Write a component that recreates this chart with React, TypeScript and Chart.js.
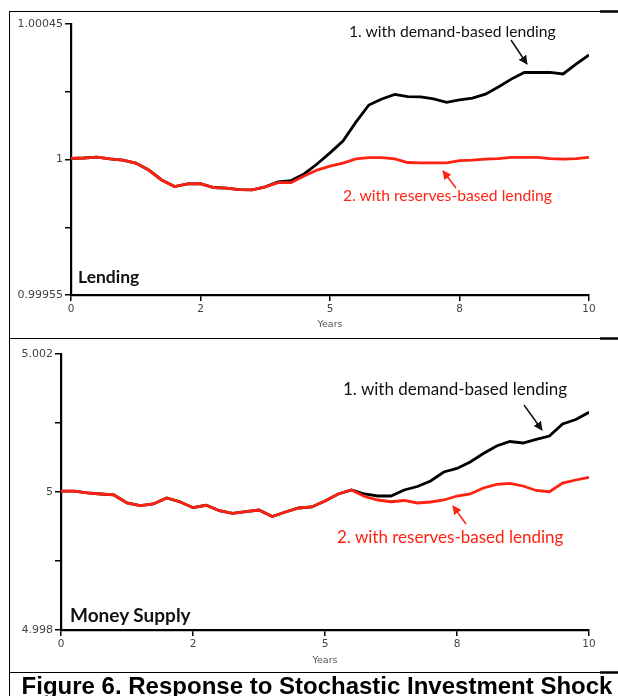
import React, { useEffect, useRef } from "react";
import { Chart, registerables } from "chart.js";

Chart.register(...registerables);

// ---------------- data ----------------
const years = [
  0, 0.25, 0.5, 0.75, 1, 1.25, 1.5, 1.75, 2, 2.25, 2.5, 2.75, 3, 3.25, 3.5, 3.75,
  4, 4.25, 4.5, 4.75, 5, 5.25, 5.5, 5.75, 6, 6.25, 6.5, 6.75, 7, 7.25, 7.5, 7.75,
  8, 8.25, 8.5, 8.75, 9, 9.25, 9.5, 9.75, 10,
];

const lendingDemand = [
  1.000004, 1.000005, 1.000008, 1.000002, 0.999998, 0.999988, 0.999965, 0.999932,
  0.99991, 0.999919, 0.99992, 0.999907, 0.999905, 0.9999, 0.999899, 0.999909,
  0.999926, 0.99993, 0.999952, 0.999985, 1.000022, 1.000061, 1.000124, 1.000181,
  1.000201, 1.000216, 1.000209, 1.000208, 1.000201, 1.00019, 1.000198, 1.000204,
  1.000217, 1.000241, 1.000267, 1.000289, 1.000289, 1.000289, 1.000284, 1.000317,
  1.000347,
];

const lendingReserves = [
  1.000004, 1.000005, 1.000008, 1.000002, 0.999998, 0.999988, 0.999965, 0.999932,
  0.99991, 0.999919, 0.99992, 0.999907, 0.999905, 0.9999, 0.999899, 0.999909,
  0.999923, 0.999923, 0.999945, 0.999965, 0.999978, 0.999988, 1.000002, 1.000006,
  1.000006, 1.000002, 0.99999, 0.999989, 0.999989, 0.999989, 0.999996, 0.999998,
  1.000001, 1.000003, 1.000007, 1.000007, 1.000007, 1.000003, 1.000001, 1.000003,
  1.000007,
];

const moneyDemand = [
  5.000014, 5.000014, 4.999986, 4.999971, 4.999957, 4.999841, 4.999804, 4.999826,
  4.999913, 4.999859, 4.999773, 4.999807, 4.999729, 4.999691, 4.999715, 4.999739,
  4.999645, 4.99971, 4.999768, 4.999783, 4.99987, 4.999971, 5.000029, 4.999971,
  4.999942, 4.999942, 5.000029, 5.00008, 5.000159, 5.00029, 5.000341, 5.000435,
  5.000558, 5.000667, 5.000732, 5.00071, 5.000764, 5.000811, 5.000985, 5.001051,
  5.001155,
];

const moneyReserves = [
  5.000014, 5.000014, 4.999986, 4.999971, 4.999957, 4.999841, 4.999804, 4.999826,
  4.999913, 4.999859, 4.999773, 4.999807, 4.999729, 4.999691, 4.999715, 4.999739,
  4.999645, 4.99971, 4.999768, 4.999783, 4.99987, 4.999971, 5.000029, 4.999935,
  4.999884, 4.999859, 4.999877, 4.999841, 4.999855, 4.999884, 4.999942, 4.999971,
  5.000058, 5.000109, 5.000126, 5.000087, 5.000022, 5.000004, 5.00013, 5.000174,
  5.000213,
];

const xTickValues = [0, 2.5, 5, 7.5, 10];
const xTickLabels = ["0", "2", "5", "8", "10"];

const lendingTickValues = [0.99955, 0.999775, 1, 1.000225, 1.00045];
const lendingTickLabels = ["0.99955", "", "1", "", "1.00045"];

const moneyTickValues = [4.998, 4.999, 5, 5.001, 5.002];
const moneyTickLabels = ["4.998", "", "5", "", "5.002"];

const demandLabel = "1. with demand-based lending";
const reservesLabel = "2. with reserves-based lending";

// ---------------- styles ----------------
const RED = "#ff2212";
const TICK_FAMILY = "'DejaVu Sans', Verdana, sans-serif";

type PanelProps = {
  left: number;
  top: number;
  width: number;
  height: number;
  yAxisWidth: number;
  xAxisHeight: number;
  padTop: number;
  padRight: number;
  padBottom: number;
  demand: number[];
  reserves: number[];
  yTicks: number[];
  yTickLabels: string[];
};

function Panel(p: PanelProps) {
  const ref = useRef<HTMLCanvasElement | null>(null);
  useEffect(() => {
    if (!ref.current) return;
    const chart = new Chart(ref.current, {
      type: "line",
      data: {
        datasets: [
          {
            label: reservesLabel,
            data: years.map((x, i) => ({ x, y: p.reserves[i] })),
            borderColor: RED,
            borderWidth: 2.8,
            pointRadius: 0,
            tension: 0,
            order: 0,
          },
          {
            label: demandLabel,
            data: years.map((x, i) => ({ x, y: p.demand[i] })),
            borderColor: "#000",
            borderWidth: 2.8,
            pointRadius: 0,
            tension: 0,
            order: 1,
          },
        ],
      },
      options: {
        animation: false,
        responsive: false,
        devicePixelRatio: 1,
        layout: { padding: { top: p.padTop, right: p.padRight, left: 0, bottom: p.padBottom } },
        plugins: { legend: { display: false }, tooltip: { enabled: false } },
        scales: {
          x: {
            type: "linear",
            min: 0,
            max: 10,
            afterBuildTicks: (s: any) => {
              s.ticks = xTickValues.map((v) => ({ value: v }));
            },
            afterFit: (s: any) => {
              s.height = p.xAxisHeight;
            },
            ticks: {
              callback: (_v: any, i: number) => xTickLabels[i],
              color: "#444",
              font: { family: TICK_FAMILY, size: 10.5 },
              padding: 2,
              maxRotation: 0,
              autoSkip: false,
            },
            grid: {
              drawOnChartArea: false,
              drawTicks: true,
              tickLength: 6,
              color: "#000",
              lineWidth: 1.5,
            },
            border: { display: true, color: "#000", width: 2.2 },
            title: {
              display: true,
              text: "Years",
              color: "#555",
              font: { family: TICK_FAMILY, size: 9.5 },
              padding: { top: 0, bottom: 0 },
            },
          },
          y: {
            type: "linear",
            min: p.yTicks[0],
            max: p.yTicks[p.yTicks.length - 1],
            afterBuildTicks: (s: any) => {
              s.ticks = p.yTicks.map((v) => ({ value: v }));
            },
            afterFit: (s: any) => {
              s.width = p.yAxisWidth;
            },
            ticks: {
              callback: (_v: any, i: number) => p.yTickLabels[i],
              color: "#444",
              font: { family: TICK_FAMILY, size: 11 },
              padding: 2,
              autoSkip: false,
            },
            grid: {
              drawOnChartArea: false,
              drawTicks: true,
              tickLength: 6,
              color: "#000",
              lineWidth: 1.5,
            },
            border: { display: true, color: "#000", width: 2.2 },
          },
        },
      },
    } as any);
    return () => chart.destroy();
  }, []);
  return (
    <canvas
      ref={ref}
      width={p.width}
      height={p.height}
      style={{ position: "absolute", left: p.left, top: p.top, width: p.width, height: p.height }}
    />
  );
}

const annoFont = "Lato, 'Open Sans', sans-serif";

function Text(props: { x: number; y: number; size: number; color: string; bold?: boolean; children: string }) {
  return (
    <div
      style={{
        position: "absolute",
        left: props.x,
        top: props.y,
        fontFamily: annoFont,
        fontSize: props.size,
        lineHeight: "1",
        fontWeight: props.bold ? 700 : 400,
        color: props.color,
        whiteSpace: "nowrap",
      }}
    >
      {props.children}
    </div>
  );
}

export default function App() {
  const arrows = [
    { x1: 511, y1: 40, x2: 527, y2: 64, c: "#111" },
    { x1: 456, y1: 188, x2: 443, y2: 171, c: RED },
    { x1: 524, y1: 405, x2: 542, y2: 430, c: "#111" },
    { x1: 466, y1: 524, x2: 453, y2: 506, c: RED },
  ];
  return (
    <div
      style={{
        position: "absolute",
        left: 0,
        top: 0,
        width: 618,
        height: 696,
        overflow: "hidden",
        background: "#fff",
      }}
    >
      <Panel
        left={10}
        top={12}
        width={606}
        height={325}
        yAxisWidth={61}
        xAxisHeight={35}
        padTop={12}
        padRight={27}
        padBottom={7}
        demand={lendingDemand}
        reserves={lendingReserves}
        yTicks={lendingTickValues}
        yTickLabels={lendingTickLabels}
      />
      <Panel
        left={10}
        top={342}
        width={606}
        height={329}
        yAxisWidth={51}
        xAxisHeight={36}
        padTop={12}
        padRight={27}
        padBottom={5}
        demand={moneyDemand}
        reserves={moneyReserves}
        yTicks={moneyTickValues}
        yTickLabels={moneyTickLabels}
      />

      <Text x={349} y={24} size={15.7} color="#111">{demandLabel}</Text>
      <Text x={343} y={188} size={15.7} color={RED}>{reservesLabel}</Text>
      <Text x={78} y={268} size={17.5} color="#111" bold>Lending</Text>

      <Text x={343} y={380} size={17} color="#111">{demandLabel}</Text>
      <Text x={337} y={528} size={17} color={RED}>{reservesLabel}</Text>
      <Text x={70} y={605} size={19} color="#111" bold>Money Supply</Text>

      <svg
        width={618}
        height={696}
        style={{ position: "absolute", left: 0, top: 0, pointerEvents: "none" }}
      >
        <defs>
          <marker id="ahK" viewBox="0 0 10 10" refX="9" refY="5" markerWidth="6" markerHeight="6" orient="auto">
            <path d="M0,0 L10,5 L0,10 z" fill="#111" />
          </marker>
          <marker id="ahR" viewBox="0 0 10 10" refX="9" refY="5" markerWidth="6" markerHeight="6" orient="auto">
            <path d="M0,0 L10,5 L0,10 z" fill={RED} />
          </marker>
        </defs>
        {arrows.map((a, i) => (
          <line
            key={i}
            x1={a.x1}
            y1={a.y1}
            x2={a.x2}
            y2={a.y2}
            stroke={a.c}
            strokeWidth={1.5}
            markerEnd={a.c === RED ? "url(#ahR)" : "url(#ahK)"}
          />
        ))}
        {/* frame lines */}
        <line x1={9.5} y1={11.5} x2={618} y2={11.5} stroke="#000" strokeWidth={1} />
        <line x1={600} y1={11.5} x2={618} y2={11.5} stroke="#000" strokeWidth={2.5} />
        <line x1={9.5} y1={338.5} x2={618} y2={338.5} stroke="#000" strokeWidth={1} />
        <line x1={600} y1={338.5} x2={618} y2={338.5} stroke="#000" strokeWidth={2.5} />
        <line x1={9.5} y1={672.5} x2={618} y2={672.5} stroke="#000" strokeWidth={1} />
        <line x1={600} y1={672.5} x2={618} y2={672.5} stroke="#000" strokeWidth={2.5} />
        <line x1={9.5} y1={11} x2={9.5} y2={696} stroke="#000" strokeWidth={1} />
      </svg>

      <div
        style={{
          position: "absolute",
          left: 8,
          top: 672,
          width: 618,
          textAlign: "center",
          fontFamily: "'Liberation Sans', Arial, sans-serif",
          fontWeight: 700,
          fontSize: 24,
          lineHeight: "28px",
          color: "#000",
          whiteSpace: "nowrap",
        }}
      >
        Figure 6. Response to Stochastic Investment Shock
      </div>
    </div>
  );
}
